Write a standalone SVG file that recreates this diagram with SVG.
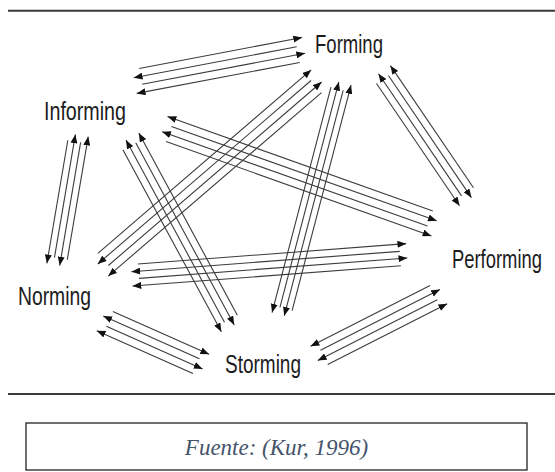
<svg xmlns="http://www.w3.org/2000/svg" width="555" height="472" viewBox="0 0 555 472">
  <style>
    .rule { stroke: #3a3a3a; stroke-width: 2; }
    .bundle line { stroke: #3c3c3c; stroke-width: 1.1; fill: none; marker-end: url(#ah); }
    .label { font-family: 'Liberation Sans', Arial, sans-serif; font-size: 25px; fill: #1c1c1c; }
    .caption { font-family: 'Liberation Serif', 'Times New Roman', serif; font-style: italic; font-size: 23px; fill: #44546a; }
  </style>
  <defs>
    <marker id="ah" viewBox="0 0 10 8" refX="10" refY="4" markerWidth="9" markerHeight="7" markerUnits="userSpaceOnUse" orient="auto">
      <path d="M0,0 L10,4 L0,8 z" fill="#111"/>
    </marker>
  </defs>

  <rect x="0" y="0" width="555" height="472" fill="#fff"/>

  <!-- horizontal rules framing the figure -->
  <line class="rule" x1="8" y1="10.7" x2="555" y2="10.7"/>
  <line class="rule" x1="8" y1="394" x2="555" y2="394"/>

  <!-- connector bundles: four parallel arrows per pair, two each way -->
  <g id="connectors">
    <!-- Informing <-> Forming -->
    <g class="bundle" transform="translate(134.5,81.6) rotate(-10.76)">
      <line x1="7" y1="-12" x2="172.9" y2="-12"/>
      <line x1="165.9" y1="-4" x2="0" y2="-4"/>
      <line x1="7" y1="4" x2="172.9" y2="4"/>
      <line x1="165.9" y1="12" x2="0" y2="12"/>
    </g>
    <!-- Norming <-> Forming -->
    <g class="bundle" transform="translate(100.4,267) rotate(-40.7)">
      <line x1="7" y1="-12" x2="288.3" y2="-12"/>
      <line x1="281.3" y1="-4" x2="0" y2="-4"/>
      <line x1="7" y1="4" x2="288.3" y2="4"/>
      <line x1="281.3" y1="12" x2="0" y2="12"/>
    </g>
    <!-- Norming <-> Informing -->
    <g class="bundle" transform="translate(56.5,265) rotate(-80.35)">
      <line x1="124.9" y1="-9.75" x2="0" y2="-9.75"/>
      <line x1="7" y1="-3.25" x2="131.9" y2="-3.25"/>
      <line x1="124.9" y1="3.25" x2="0" y2="3.25"/>
      <line x1="7" y1="9.75" x2="131.9" y2="9.75"/>
    </g>
    <!-- Informing <-> Storming -->
    <g class="bundle" transform="translate(129.2,138.3) rotate(61.6)">
      <line x1="207.1" y1="-10.95" x2="0" y2="-10.95"/>
      <line x1="7" y1="-3.65" x2="214.1" y2="-3.65"/>
      <line x1="207.1" y1="3.65" x2="0" y2="3.65"/>
      <line x1="7" y1="10.95" x2="214.1" y2="10.95"/>
    </g>
    <!-- Informing <-> Performing -->
    <g class="bundle" transform="translate(163.5,127.9) rotate(19.58)">
      <line x1="281.6" y1="-12" x2="0" y2="-12"/>
      <line x1="7" y1="-4" x2="288.6" y2="-4"/>
      <line x1="281.6" y1="4" x2="0" y2="4"/>
      <line x1="7" y1="12" x2="288.6" y2="12"/>
    </g>
    <!-- Forming <-> Performing -->
    <g class="bundle" transform="translate(381.5,71.7) rotate(55.8)">
      <line x1="147.7" y1="-10.8" x2="0" y2="-10.8"/>
      <line x1="7" y1="-3.6" x2="154.7" y2="-3.6"/>
      <line x1="147.7" y1="3.6" x2="0" y2="3.6"/>
      <line x1="7" y1="10.8" x2="154.7" y2="10.8"/>
    </g>
    <!-- Storming <-> Forming -->
    <g class="bundle" transform="translate(281.2,315) rotate(-75.36)">
      <line x1="233.1" y1="-9.45" x2="0" y2="-9.45"/>
      <line x1="7" y1="-3.15" x2="240.1" y2="-3.15"/>
      <line x1="233.1" y1="3.15" x2="0" y2="3.15"/>
      <line x1="7" y1="9.45" x2="240.1" y2="9.45"/>
    </g>
    <!-- Norming <-> Performing -->
    <g class="bundle" transform="translate(131.7,275.3) rotate(-4.34)">
      <line x1="7" y1="-10.8" x2="276.1" y2="-10.8"/>
      <line x1="269.1" y1="-3.6" x2="0" y2="-3.6"/>
      <line x1="7" y1="3.6" x2="276.1" y2="3.6"/>
      <line x1="269.1" y1="10.8" x2="0" y2="10.8"/>
    </g>
    <!-- Norming <-> Storming -->
    <g class="bundle" transform="translate(101.6,319.7) rotate(23.96)">
      <line x1="7" y1="-12" x2="112.3" y2="-12"/>
      <line x1="105.3" y1="-4" x2="0" y2="-4"/>
      <line x1="7" y1="4" x2="112.3" y2="4"/>
      <line x1="105.3" y1="12" x2="0" y2="12"/>
    </g>
    <!-- Storming <-> Performing -->
    <g class="bundle" transform="translate(316,357) rotate(-26.97)">
      <line x1="134.1" y1="-12" x2="0" y2="-12"/>
      <line x1="7" y1="-4" x2="141.1" y2="-4"/>
      <line x1="134.1" y1="4" x2="0" y2="4"/>
      <line x1="7" y1="12" x2="141.1" y2="12"/>
    </g>
  </g>

  <!-- stage nodes (labels horizontally condensed) -->
  <g id="node-forming">
    <text class="label" transform="translate(315,53) scale(0.742,1)">Forming</text>
  </g>
  <g id="node-informing">
    <text class="label" transform="translate(44,120) scale(0.787,1)">Informing</text>
  </g>
  <g id="node-norming">
    <text class="label" transform="translate(18,305) scale(0.773,1)">Norming</text>
  </g>
  <g id="node-performing">
    <text class="label" transform="translate(452,268) scale(0.736,1)">Performing</text>
  </g>
  <g id="node-storming">
    <text class="label" transform="translate(225,373) scale(0.76,1)">Storming</text>
  </g>

  <!-- source caption -->
  <g id="caption">
    <rect x="26" y="423" width="501" height="47" fill="#fff" stroke="#222" stroke-width="1.3"/>
    <text class="caption" x="276.5" y="455" text-anchor="middle">Fuente: (Kur, 1996)</text>
  </g>
</svg>
